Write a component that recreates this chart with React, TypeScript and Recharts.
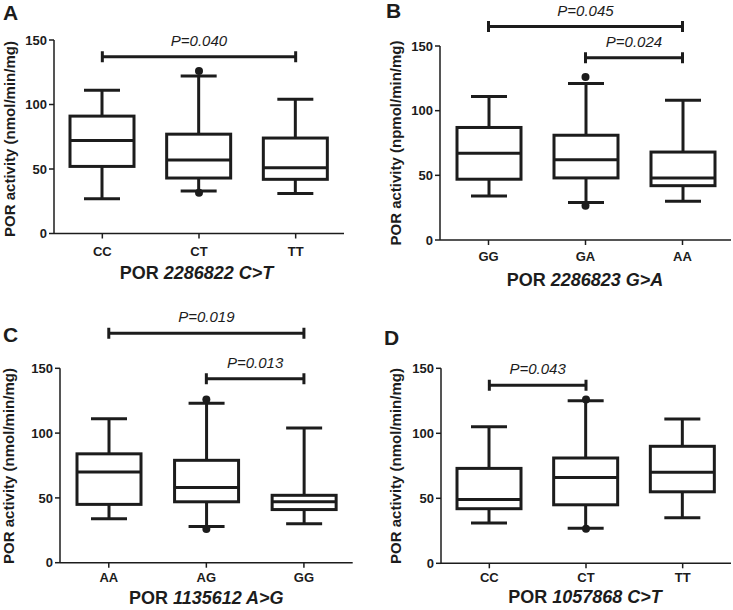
import { ComposedChart, Bar, Line, XAxis, YAxis, ReferenceLine } from "recharts";

const FONT = '"Liberation Sans", Arial, sans-serif';
const INK = "#1c1c1c";

const Y_TICKS = [0, 50, 100, 150];

// A: POR 2286822 C>T
const A_CATS = ["CC", "CT", "TT"];
const A_LOW = [27, 33, 31];
const A_Q1 = [52, 43, 42];
const A_MED = [72, 57, 51];
const A_Q3 = [91, 77, 74];
const A_HIGH = [111, 122, 104];
const A_OUT_HI = [null, 126, null];
const A_OUT_LO = [null, 31.5, null];

// B: POR 2286823 G>A
const B_CATS = ["GG", "GA", "AA"];
const B_LOW = [34, 29, 30];
const B_Q1 = [47, 48, 42];
const B_MED = [67, 62, 48];
const B_Q3 = [87, 81, 68];
const B_HIGH = [111, 121, 108];
const B_OUT_HI = [null, 126, null];
const B_OUT_LO = [null, 26.5, null];

// C: POR 1135612 A>G
const C_CATS = ["AA", "AG", "GG"];
const C_LOW = [34, 28, 30];
const C_Q1 = [45, 47, 41];
const C_MED = [70, 58, 47];
const C_Q3 = [84, 79, 52];
const C_HIGH = [111, 123, 104];
const C_OUT_HI = [null, 126, null];
const C_OUT_LO = [null, 26, null];

// D: POR 1057868 C>T
const D_CATS = ["CC", "CT", "TT"];
const D_LOW = [31, 27, 35];
const D_Q1 = [42, 45, 55];
const D_MED = [49, 66, 70];
const D_Q3 = [73, 81, 90];
const D_HIGH = [105, 125, 111];
const D_OUT_HI = [null, 126, null];
const D_OUT_LO = [null, 26.5, null];

type Sig = { from: string; to: string; y: number; p: string };

const A_SIGS: Sig[] = [{ from: "CC", to: "TT", y: 137, p: "P=0.040" }];
const B_SIGS: Sig[] = [
  { from: "GG", to: "AA", y: 165, p: "P=0.045" },
  { from: "GA", to: "AA", y: 141, p: "P=0.024" },
];
const C_SIGS: Sig[] = [
  { from: "AA", to: "GG", y: 177, p: "P=0.019" },
  { from: "AG", to: "GG", y: 142, p: "P=0.013" },
];
const D_SIGS: Sig[] = [{ from: "CC", to: "CT", y: 137, p: "P=0.043" }];

function buildRows(
  cats: string[],
  low: number[],
  q1: number[],
  med: number[],
  q3: number[],
  high: number[],
  outHi: (number | null)[],
  outLo: (number | null)[]
) {
  return cats.map((cat, i) => ({
    cat,
    range: [low[i], high[i]],
    low: low[i],
    q1: q1[i],
    med: med[i],
    q3: q3[i],
    high: high[i],
    outHi: outHi[i],
    outLo: outLo[i],
  }));
}

const BoxShape = (props: any) => {
  const { x, y, width, height, payload } = props;
  const top = Math.min(y, y + height);
  const span = Math.abs(height);
  const { low, high, q1, med, q3 } = payload;
  const py = (v: number) => top + (span * (high - v)) / (high - low);
  const cx = x + width / 2;
  const cap = 36;
  return (
    <g stroke={INK} strokeWidth={3} fill="none">
      <line x1={cx} x2={cx} y1={py(high)} y2={py(q3)} />
      <line x1={cx} x2={cx} y1={py(q1)} y2={py(low)} />
      <line x1={cx - cap / 2} x2={cx + cap / 2} y1={py(high)} y2={py(high)} />
      <line x1={cx - cap / 2} x2={cx + cap / 2} y1={py(low)} y2={py(low)} />
      <rect x={x} y={py(q3)} width={width} height={py(q1) - py(q3)} fill="#fff" />
      <line x1={x} x2={x + width} y1={py(med)} y2={py(med)} />
    </g>
  );
};

const OutlierDot = (props: any) => {
  const { cx, cy, value, index } = props;
  if (value == null || cy == null || Number.isNaN(cy)) return <g key={`e-${index}`} />;
  return <circle key={`o-${index}`} cx={cx} cy={cy} r={4} fill={INK} />;
};

const SigShape = (props: any) => {
  const { x1, y1, x2 } = props;
  const h = 5.5;
  return (
    <path
      d={`M${x1},${y1 - h}V${y1 + h}M${x1},${y1}H${x2}M${x2},${y1 - h}V${y1 + h}`}
      stroke={INK}
      strokeWidth={3}
      fill="none"
    />
  );
};

interface PanelProps {
  left: number;
  top: number;
  width: number;
  height: number;
  margin: { top: number; right: number; bottom: number; left: number };
  tickGap: number;
  rows: any[];
  sigs: Sig[];
}

function BoxPanel({ left, top, width, height, margin, tickGap, rows, sigs }: PanelProps) {
  return (
    <div style={{ position: "absolute", left, top }}>
      <ComposedChart width={width} height={height} data={rows} margin={margin}>
        <XAxis
          dataKey="cat"
          height={30}
          interval={0}
          tickSize={5}
          tickMargin={tickGap}
          axisLine={{ stroke: INK, strokeWidth: 1.5 }}
          tickLine={{ stroke: INK, strokeWidth: 1.5 }}
          tick={{ fill: INK, fontSize: 13, fontWeight: 700, fontFamily: FONT }}
        />
        <YAxis
          type="number"
          domain={[0, 150]}
          ticks={Y_TICKS}
          allowDataOverflow
          width={40}
          tickSize={5}
          tickMargin={2}
          axisLine={{ stroke: INK, strokeWidth: 1.5 }}
          tickLine={{ stroke: INK, strokeWidth: 1.5 }}
          tick={{ fill: INK, fontSize: 13, fontWeight: 700, fontFamily: FONT }}
        />
        <Bar dataKey="range" barSize={64} shape={BoxShape} isAnimationActive={false} />
        <Line
          dataKey="outHi"
          stroke="none"
          dot={OutlierDot}
          activeDot={false}
          isAnimationActive={false}
        />
        <Line
          dataKey="outLo"
          stroke="none"
          dot={OutlierDot}
          activeDot={false}
          isAnimationActive={false}
        />
        {sigs.map((s) => (
          <ReferenceLine
            key={s.p}
            segment={[
              { x: s.from, y: s.y },
              { x: s.to, y: s.y },
            ]}
            ifOverflow="visible"
            shape={SigShape}
            label={{
              value: s.p,
              position: "top",
              offset: 11,
              fill: INK,
              fontSize: 15,
              fontStyle: "italic",
              fontFamily: FONT,
            }}
          />
        ))}
      </ComposedChart>
    </div>
  );
}

function Letter({ text, left, top }: { text: string; left: number; top: number }) {
  return (
    <div
      style={{
        position: "absolute",
        left,
        top,
        fontFamily: FONT,
        fontWeight: 700,
        fontSize: 21,
        lineHeight: "21px",
        color: INK,
      }}
    >
      {text}
    </div>
  );
}

function XTitle({ cx, top, code }: { cx: number; top: number; code: string }) {
  return (
    <div
      style={{
        position: "absolute",
        left: cx - 150,
        top,
        width: 300,
        textAlign: "center",
        fontFamily: FONT,
        fontWeight: 700,
        fontSize: 18,
        lineHeight: "18px",
        color: INK,
        whiteSpace: "nowrap",
      }}
    >
      POR <i>{code}</i>
    </div>
  );
}

function YTitle({ cx, cy, text }: { cx: number; cy: number; text: string }) {
  return (
    <div
      style={{
        position: "absolute",
        left: cx - 130,
        top: cy - 9,
        width: 260,
        height: 18,
        textAlign: "center",
        fontFamily: FONT,
        fontWeight: 700,
        fontSize: 15,
        lineHeight: "18px",
        color: INK,
        whiteSpace: "nowrap",
        transform: "rotate(-90deg)",
      }}
    >
      {text}
    </div>
  );
}

export default function App() {
  const rowsA = buildRows(A_CATS, A_LOW, A_Q1, A_MED, A_Q3, A_HIGH, A_OUT_HI, A_OUT_LO);
  const rowsB = buildRows(B_CATS, B_LOW, B_Q1, B_MED, B_Q3, B_HIGH, B_OUT_HI, B_OUT_LO);
  const rowsC = buildRows(C_CATS, C_LOW, C_Q1, C_MED, C_Q3, C_HIGH, C_OUT_HI, C_OUT_LO);
  const rowsD = buildRows(D_CATS, D_LOW, D_Q1, D_MED, D_Q3, D_HIGH, D_OUT_HI, D_OUT_LO);

  return (
    <div
      style={{
        position: "absolute",
        left: 0,
        top: 0,
        width: 733,
        height: 610,
        background: "#fff",
        overflow: "hidden",
      }}
    >
      <BoxPanel
        left={0}
        top={0}
        width={366}
        height={300}
        margin={{ top: 40, right: 22, bottom: 36.5, left: 14 }}
        tickGap={8}
        rows={rowsA}
        sigs={A_SIGS}
      />
      <BoxPanel
        left={366}
        top={0}
        width={367}
        height={300}
        margin={{ top: 46, right: 2, bottom: 30, left: 34 }}
        tickGap={7}
        rows={rowsB}
        sigs={B_SIGS}
      />
      <BoxPanel
        left={0}
        top={300}
        width={366}
        height={310}
        margin={{ top: 68.3, right: 13.3, bottom: 17.3, left: 20 }}
        tickGap={5}
        rows={rowsC}
        sigs={C_SIGS}
      />
      <BoxPanel
        left={366}
        top={300}
        width={367}
        height={310}
        margin={{ top: 68.3, right: 2, bottom: 16.7, left: 35 }}
        tickGap={4}
        rows={rowsD}
        sigs={D_SIGS}
      />

      <Letter text="A" left={3} top={2} />
      <Letter text="B" left={386} top={0} />
      <Letter text="C" left={3} top={324} />
      <Letter text="D" left={384} top={327} />

      <YTitle cx={9.5} cy={139} text="POR activity (nmol/min/mg)" />
      <YTitle cx={396} cy={143} text="POR activity (npmol/min/mg)" />
      <YTitle cx={9} cy={466} text="POR activity (nmol/min/mg)" />
      <YTitle cx={396} cy={466} text="POR activity (nmol/min/mg)" />

      <XTitle cx={196.5} top={264} code="2286822 C>T" />
      <XTitle cx={585} top={271} code="2286823 G>A" />
      <XTitle cx={206.3} top={589} code="1135612 A>G" />
      <XTitle cx={585} top={588} code="1057868 C>T" />
    </div>
  );
}
